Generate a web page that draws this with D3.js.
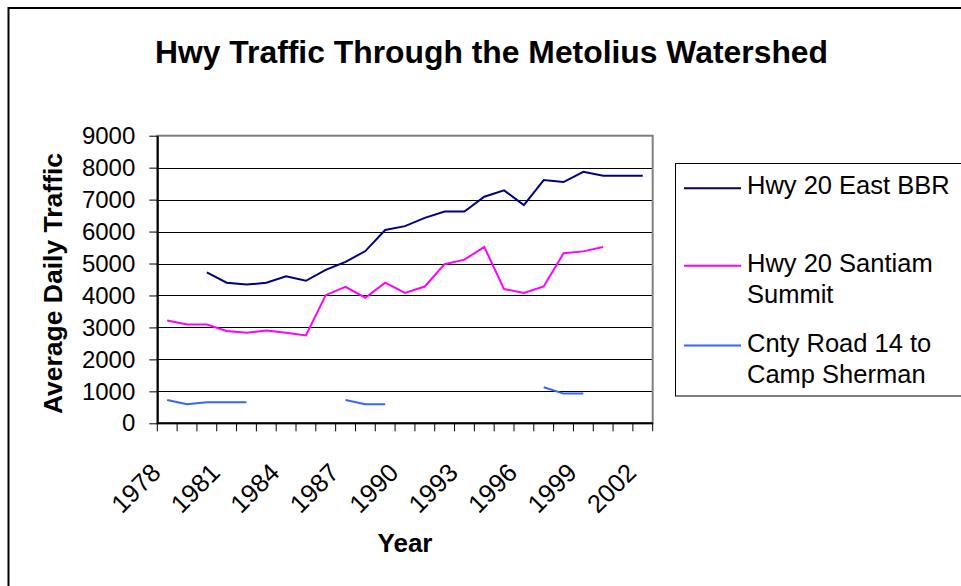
<!DOCTYPE html>
<html>
<head>
<meta charset="utf-8">
<script src="https://cdn.jsdelivr.net/npm/d3@7"></script>
<style>
  body { margin: 0; background: #fff; }
  svg { display: block; font-family: 'Liberation Sans', Arial, sans-serif; }
</style>
</head>
<body>
<div class="inner-container"></div>
<script>
const years = [1978, 1979, 1980, 1981, 1982, 1983, 1984, 1985, 1986, 1987, 1988, 1989, 1990,
  1991, 1992, 1993, 1994, 1995, 1996, 1997, 1998, 1999, 2000, 2001, 2002]
const yearLabels = [1978, 1981, 1984, 1987, 1990, 1993, 1996, 1999, 2002]
const yTicks = [0, 1000, 2000, 3000, 4000, 5000, 6000, 7000, 8000, 9000]

const eastBBR = [null, null, 4720, 4400, 4340, 4400, 4600, 4460, 4800, 5050, 5390, 6050, 6170,
  6430, 6630, 6630, 7090, 7290, 6830, 7610, 7550, 7870, 7750, 7750, 7750]
const santiam = [3220, 3090, 3090, 2890, 2830, 2900, 2830, 2750, 4010, 4270, 3930, 4400, 4080,
  4280, 4980, 5120, 5520, 4200, 4080, 4280, 5320, 5380, 5520, null, null]
const cntyRoad = [730, 600, 660, 660, 660, null, null, null, null, 730, 600, 600, null,
  null, null, null, null, null, null, 1130, 930, 930, null, null, null]

const seriesNames = [['Hwy 20 East BBR'], ['Hwy 20 Santiam', 'Summit'], ['Cnty Road 14 to', 'Camp Sherman']]
const seriesColors = ['#000080', '#ff00ff', '#3366ff']
const series = [eastBBR, santiam, cntyRoad]

document.addEventListener('DOMContentLoaded', () => {
  const w = 961
  const h = 586
  const plot = { left: 157.3, right: 652.7, top: 135.7, bottom: 423.3 }

  const svg = d3.create('svg')
    .attr('width', w)
    .attr('height', h)

  svg.append('rect')
    .attr('width', w).attr('height', h)
    .attr('fill', '#fff')

  // chart frame, runs off the right and bottom edges
  svg.append('rect')
    .attr('x', 8.5).attr('y', 8)
    .attr('width', 1200).attr('height', 1000)
    .attr('fill', 'none')
    .attr('stroke', '#000')
    .attr('stroke-width', 2)

  svg.append('text')
    .attr('x', 155)
    .attr('y', 63)
    .attr('font-size', 32)
    .attr('font-weight', 'bold')
    .attr('textLength', 673)
    .attr('lengthAdjust', 'spacingAndGlyphs')
    .text('Hwy Traffic Through the Metolius Watershed')

  const x = d3.scaleBand()
    .domain(years)
    .range([plot.left, plot.right])
    .padding(0)

  const y = d3.scaleLinear()
    .domain([0, 9000])
    .range([plot.bottom, plot.top])

  // gridlines
  svg.append('g')
    .selectAll('line')
    .data(yTicks.filter(d => d > 0 && d < 9000))
    .join('line')
      .attr('x1', plot.left).attr('x2', plot.right)
      .attr('y1', d => Math.round(y(d)) + 0.5)
      .attr('y2', d => Math.round(y(d)) + 0.5)
      .attr('stroke', '#000')
      .attr('stroke-width', 1)

  // plot area border
  svg.append('rect')
    .attr('x', plot.left).attr('y', plot.top)
    .attr('width', plot.right - plot.left)
    .attr('height', plot.bottom - plot.top)
    .attr('fill', 'none')
    .attr('stroke', '#808080')
    .attr('stroke-width', 2)

  // y axis
  const yAxis = svg.append('g')
    .attr('transform', `translate(${plot.left}, 0)`)
    .call(d3.axisLeft(y)
      .tickValues(yTicks)
      .tickFormat(d3.format('d'))
      .tickSize(8)
      .tickPadding(14)
      .tickSizeOuter(0))
  yAxis.select('.domain').attr('stroke', '#000').attr('stroke-width', 2)
  yAxis.selectAll('.tick line').attr('stroke', '#000')
  yAxis.selectAll('.tick text')
    .attr('font-size', 24)
    .attr('font-family', "'Liberation Sans', Arial, sans-serif")
    .attr('fill', '#000')

  // x axis: ticks on category boundaries
  const xg = svg.append('g')
    .attr('transform', `translate(0, ${plot.bottom})`)
  xg.append('line')
    .attr('x1', plot.left).attr('x2', plot.right)
    .attr('stroke', '#000').attr('stroke-width', 2)
  xg.selectAll('line.tk')
    .data(years.concat(['end']))
    .join('line')
      .attr('class', 'tk')
      .attr('x1', d => d === 'end' ? plot.right : x(d))
      .attr('x2', d => d === 'end' ? plot.right : x(d))
      .attr('y1', 0).attr('y2', 8)
      .attr('stroke', '#000')
  xg.selectAll('text')
    .data(yearLabels)
    .join('text')
      .attr('transform', d => `translate(${x(d) + x.bandwidth() / 2 - 5}, 51) rotate(-45)`)
      .attr('text-anchor', 'end')
      .attr('font-size', 25.5)
      .text(d => d)

  // axis titles
  svg.append('text')
    .attr('transform', 'translate(61.5, 283.5) rotate(-90)')
    .attr('text-anchor', 'middle')
    .attr('font-size', 26.5)
    .attr('font-weight', 'bold')
    .text('Average Daily Traffic')

  svg.append('text')
    .attr('x', 405)
    .attr('y', 551.5)
    .attr('text-anchor', 'middle')
    .attr('font-size', 26)
    .attr('font-weight', 'bold')
    .text('Year')

  // series
  const line = d3.line()
    .defined(d => d != null)
    .x((d, i) => x(years[i]) + x.bandwidth() / 2)
    .y(d => y(d))

  svg.append('g')
    .selectAll('path')
    .data(series)
    .join('path')
      .attr('d', d => line(d))
      .attr('fill', 'none')
      .attr('stroke', (d, i) => seriesColors[i])
      .attr('stroke-width', 2)
      .attr('stroke-linejoin', 'miter')

  // legend
  const legend = svg.append('g')
  legend.append('rect')
    .attr('x', 675.5).attr('y', 163.5)
    .attr('width', 400).attr('height', 232.5)
    .attr('fill', '#fff')
    .attr('stroke', '#000')
    .attr('stroke-width', 1)

  const legendY = [194.3, 271.7, 351.5]
  const items = legend.selectAll('g.item')
    .data(seriesNames)
    .join('g')
      .attr('class', 'item')
      .attr('transform', (d, i) => `translate(0, ${legendY[i]})`)
  items.append('line')
    .attr('x1', 684).attr('x2', 741)
    .attr('y1', -6).attr('y2', -6)
    .attr('stroke', (d, i) => seriesColors[i])
    .attr('stroke-width', 2)
  items.append('text')
    .attr('font-size', 25.5)
    .selectAll('tspan')
    .data(d => d)
    .join('tspan')
      .attr('x', 747)
      .attr('y', (d, i) => i * 31.5)
      .text(d => d)

  d3.select('.inner-container').append(() => svg.node())
})
</script>
</body>
</html>
